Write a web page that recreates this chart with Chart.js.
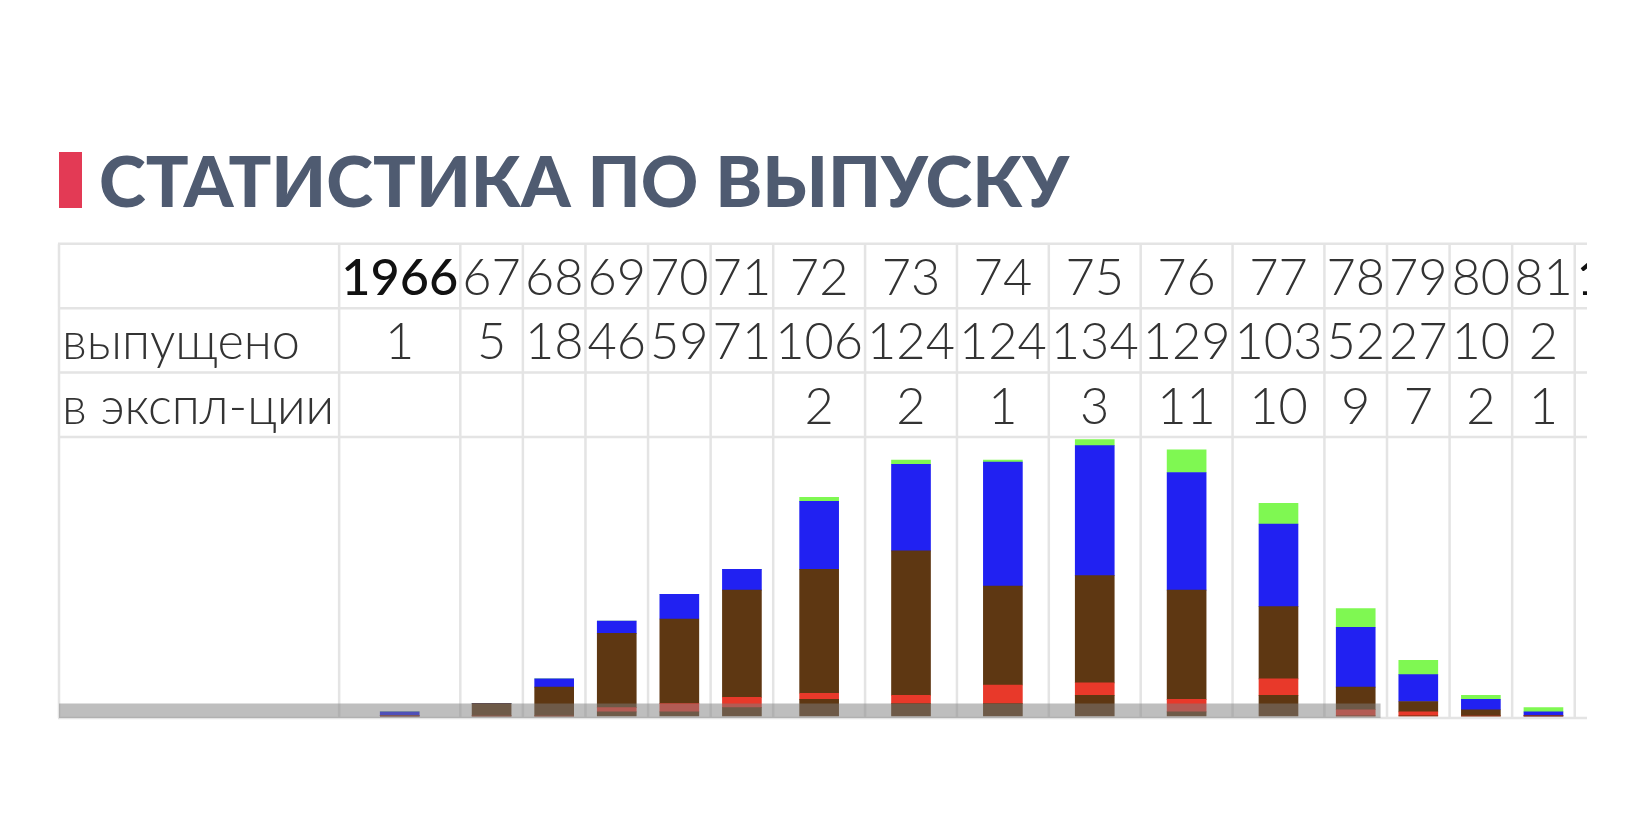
<!DOCTYPE html>
<html lang="ru">
<head>
<meta charset="utf-8">
<title>Статистика по выпуску</title>
<script src="https://cdn.jsdelivr.net/npm/chart.js@4.4.1/dist/chart.umd.min.js"></script>
<style>
  html, body { margin: 0; padding: 0; background: #fff; }
  #wrap { position: relative; width: 1644px; height: 840px; overflow: hidden; }
  #titulo {
    position: absolute; left: 59px; top: 144px;
    padding-left: 40px;
    font: 900 71px Lato, sans-serif; line-height: 71px;
    color: #4f5b71; white-space: nowrap;
  }
  #titulo:before {
    content: ""; position: absolute; left: 0; top: 8px;
    width: 23px; height: 56px; background: #e33a55;
  }
  #grafico { position: absolute; left: 0; top: 0; }
</style>
</head>
<body>
<div id="wrap">
  <canvas id="grafico" width="1644" height="840"></canvas>
  <div id="titulo">СТАТИСТИКА ПО ВЫПУСКУ</div>
</div>
<script>
/*==========================================================

DATOS

==========================================================*/

// года выпуска (шапка таблицы)
const years = ["1966", "67", "68", "69", "70", "71", "72", "73", "74", "75", "76", "77", "78", "79", "80", "81", "1982"];
const rowLabels = ["выпущено", "в экспл-ции"];
const released = [1, 5, 18, 46, 59, 71, 106, 124, 124, 134, 129, 103, 52, 27, 10, 2, null];
const inService = [null, null, null, null, null, null, 2, 2, 1, 3, 11, 10, 9, 7, 2, 1, null];

// части столбцов, снизу вверх
const partBrownLow = [0, 0, 0, 2, 2, 4, 8, 6, 6, 10, 2, 10, 0, 0, 0, 0, null];
const partRed = [0, 0, 0, 2, 4, 5, 3, 4, 9, 6, 6, 8, 3, 2, 0, 0, null];
const partBrown = [0, 6, 14, 36, 41, 52, 60, 70, 48, 52, 53, 35, 11, 5, 3, 0, null];
const partBlue = [2, 0, 4, 6, 12, 10, 33, 42, 60, 63, 57, 40, 29, 13, 5, 2, null];
const partGreen = [0, 0, 0, 0, 0, 0, 2, 2, 1, 3, 11, 10, 9, 7, 2, 2, null];

// серая полоса внизу: высота и конец (индекс колонки + доля ширины)
const bandValue = 6;
const bandEndColumn = 12.9;

/*==========================================================

DIBUJO

==========================================================*/

const W = 1644, H = 840;
const PAD_L = 59, PAD_R = 57, PAD_T = 437, PAD_B = 122;
const ROW_H = 64.4;
const FONT_LIGHT = "300 50.5px Lato";
const FONT_FIRST = "500 50.5px Lato";
const GRID = "#e4e4e4";

function fontFor(year) {
  return year.length === 4 ? FONT_FIRST : FONT_LIGHT;
}

const meas = document.createElement("canvas").getContext("2d");
function textWidth(t, font) {
  meas.font = font;
  return meas.measureText(t == null ? "" : String(t)).width;
}

// ширина колонок как у таблицы: по самому широкому тексту
let labelColW = Math.max(...rowLabels.map((t) => textWidth(t, FONT_LIGHT))) + 8;
let colW = years.map(
  (y, i) =>
    Math.max(textWidth(y, fontFor(y)), textWidth(released[i], FONT_LIGHT), textWidth(inService[i], FONT_LIGHT)) + 4
);
let colLeft = [];
let acc = labelColW;
colW.forEach((w) => {
  colLeft.push(acc);
  acc += w;
});
let centers = colW.map((w, i) => colLeft[i] + w / 2);

function points(values) {
  return values.map((v, i) => ({ x: centers[i], y: v }));
}

const bandEnd =
  colLeft[Math.floor(bandEndColumn)] + (bandEndColumn % 1) * colW[Math.floor(bandEndColumn)];

const tablePlugin = {
  id: "tabla",
  beforeDatasetsDraw(chart) {
    const ctx = chart.ctx;
    const a = chart.chartArea;
    const x = chart.scales.x;
    const top = a.top - 3 * ROW_H;
    ctx.save();
    ctx.beginPath();
    ctx.rect(a.left - 2, 0, a.right - a.left + 2, chart.height);
    ctx.clip();

    ctx.strokeStyle = GRID;
    ctx.lineWidth = 2.5;
    ctx.beginPath();
    for (let k = 0; k <= 3; k++) {
      ctx.moveTo(a.left - 1, top + k * ROW_H);
      ctx.lineTo(a.right, top + k * ROW_H);
    }
    ctx.moveTo(a.left - 1, a.bottom);
    ctx.lineTo(a.right, a.bottom);
    let edges = [0, labelColW].concat(colW.map((w, i) => colLeft[i] + w));
    edges.forEach((e) => {
      const px = x.getPixelForValue(e);
      ctx.moveTo(px, top);
      ctx.lineTo(px, a.bottom);
    });
    ctx.stroke();

    ctx.textBaseline = "alphabetic";
    ctx.fillStyle = "#333";
    ctx.font = FONT_LIGHT;
    ctx.textAlign = "left";
    rowLabels.forEach((t, k) => {
      ctx.fillText(t, x.getPixelForValue(0) + 3, top + (k + 1) * ROW_H + 51);
    });
    ctx.textAlign = "center";
    years.forEach((y, i) => {
      const cx = x.getPixelForValue(centers[i]);
      ctx.font = fontFor(y);
      ctx.fillStyle = y.length === 4 ? "#111" : "#333";
      ctx.fillText(y, cx, top + 51);
      ctx.font = FONT_LIGHT;
      ctx.fillStyle = "#333";
      if (released[i] != null) ctx.fillText(String(released[i]), cx, top + ROW_H + 51);
      if (inService[i] != null) ctx.fillText(String(inService[i]), cx, top + 2 * ROW_H + 51);
    });
    ctx.restore();
  },
};

function barSet(label, values, color) {
  return {
    type: "bar",
    label: label,
    data: points(values),
    backgroundColor: color,
    borderWidth: 0,
    barThickness: 39,
    stack: "vypusk",
  };
}

new Chart(document.getElementById("grafico"), {
  data: {
    datasets: [
      barSet("нижняя часть", partBrownLow, "#5e3712"),
      barSet("красные", partRed, "#e8392a"),
      barSet("коричневые", partBrown, "#5e3712"),
      barSet("синие", partBlue, "#2121f2"),
      barSet("в эксплуатации", partGreen, "#7ff852"),
      {
        type: "line",
        label: "полоса",
        data: [
          { x: 0, y: bandValue },
          { x: bandEnd, y: bandValue },
        ],
        fill: "start",
        backgroundColor: "rgba(125, 125, 125, 0.5)",
        borderWidth: 0,
        pointRadius: 0,
        tension: 0,
        stack: "polosa",
        order: -1,
      },
    ],
  },
  options: {
    responsive: false,
    animation: false,
    layout: { padding: { left: PAD_L, right: PAD_R, top: PAD_T, bottom: PAD_B } },
    scales: {
      x: { type: "linear", min: 0, max: W - PAD_L - PAD_R, offset: false, stacked: true, display: false },
      y: { type: "linear", min: -1, max: 135.2, stacked: true, display: false },
    },
    plugins: { legend: { display: false }, tooltip: { enabled: false } },
  },
  plugins: [tablePlugin],
});
</script>
</body>
</html>
